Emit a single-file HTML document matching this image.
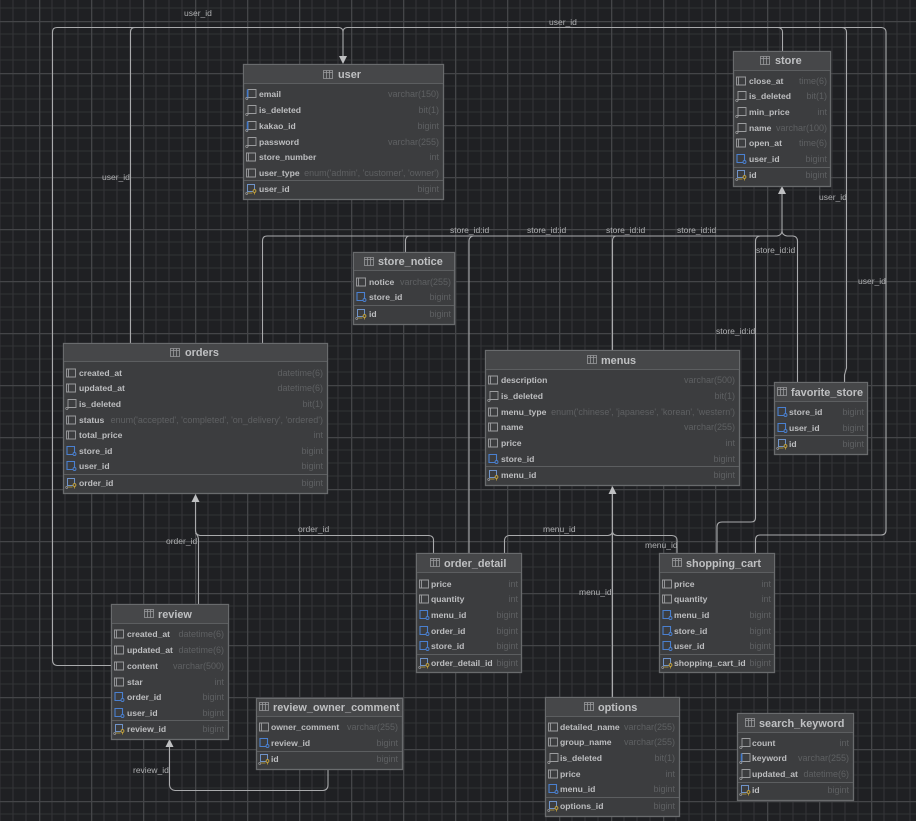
<!DOCTYPE html>
<html><head><meta charset="utf-8"><title>ER diagram</title>
<style>
html,body{margin:0;padding:0;background:#1f2023;width:916px;height:821px;overflow:hidden}
svg{display:block;font-family:"Liberation Sans",sans-serif;filter:blur(.3px)}
.n{font-size:8.6px;font-weight:bold;fill:#bdbec0}
.t{font-size:9px;fill:#5e6062;text-anchor:end}
.h{font-size:10.9px;font-weight:bold;fill:#bfc0c2}
.l{font-size:8.5px;fill:#aeafb1}
.b{fill:#3c3d3f;stroke:#696b6d;stroke-width:1.3}
.hd{fill:#464749}
.d{stroke:#5c5e60;stroke-width:1}
.c{fill:none;stroke:#a9aaac;stroke-width:1.1}
.a{fill:#bfc0c2}
</style></head><body>
<svg width="916" height="821" viewBox="0 0 916 821" xmlns="http://www.w3.org/2000/svg">
<defs>
<pattern id="g" x="39" y="21" width="52" height="52" patternUnits="userSpaceOnUse">
<path d="M13 0V52M26 0V52M39 0V52M0 13H52M0 26H52M0 39H52" stroke="#323336" stroke-width="1.1" fill="none"/>
<path d="M0.5 0V52M0 0.5H52" stroke="#444548" stroke-width="1.6" fill="none"/>
</pattern>
<symbol id="ti" viewBox="0 0 10 9" width="10" height="9"><path d="M.5.5h9v8h-9zM3.5.5v8M6.5.5v8M.5 2.5h9" fill="none" stroke="#9a9b9d" stroke-width=".8"/></symbol>
<symbol id="p" viewBox="0 0 12 12" width="12" height="12"><path d="M1.5 2h9v8h-9zM3.5 2v8" fill="none" stroke="#9c9d9f" stroke-width=".9"/></symbol>
<symbol id="o" viewBox="0 0 12 12" width="12" height="12"><path d="M3 1.5h8v8H3zM3 1.500v9.500" fill="none" stroke="#9c9d9f" stroke-width=".9"/><circle cx="1.800" cy="10.500" r="1.100" fill="none" stroke="#9c9d9f" stroke-width=".7"/></symbol>
<symbol id="u" viewBox="0 0 12 12" width="12" height="12"><path d="M3 1.500h8v8H3z" fill="none" stroke="#9c9d9f" stroke-width=".9"/><path d="M2.500 1.500v9" stroke="#3f78cc" stroke-width="1.500"/><circle cx="1.800" cy="10.500" r="1.100" fill="none" stroke="#9c9d9f" stroke-width=".7"/></symbol>
<symbol id="f" viewBox="0 0 12 12" width="12" height="12"><path d="M2 1.500h7.500v8H2z" fill="none" stroke="#4a80d0" stroke-width="1.100"/><circle cx="9.500" cy="9" r="1.500" fill="#3d3e40" stroke="#4a80d0" stroke-width=".9"/></symbol>
<symbol id="k" viewBox="0 0 12 12" width="12" height="12"><path d="M2.500 1.500h7v7h-7z" fill="none" stroke="#6f93c8" stroke-width="1"/><circle cx="9.500" cy="8" r="1.400" fill="#3d3e40" stroke="#c8a53a" stroke-width=".9"/><path d="M9.500 9.500v2M2.500 10h5" stroke="#c8a53a" stroke-width=".8"/><circle cx="1.700" cy="10.500" r="1" fill="none" stroke="#9c9d9f" stroke-width=".7"/></symbol>
</defs>
<rect width="916" height="821" fill="#1f2023"/>
<rect width="916" height="821" fill="url(#g)"/>

<!-- connectors -->
<path class="c" d="M111 665.500H57Q52.500 665 52.500 660V32Q52.500 27.500 57 27.500H339Q343 28 343 32"/>
<path class="c" d="M130.500 343V32Q130.500 27.500 135 27.500H339"/>
<path class="c" d="M343 32V57M343 32Q343 28 347 27.500H881.500Q886 28 886 32V530Q886 535 881 535H760Q755.500 535 755.500 540V553"/>
<path class="c" d="M782.500 51V32Q782.500 28 778 27.500"/>
<path class="c" d="M844.500 382V375L846.500 368V32Q846.500 28 842 27.500"/>
<path class="c" d="M782 194V231Q782 235 777 236H267Q262.500 236 262.500 241V343"/>
<path class="c" d="M405.500 252V240Q406 236.500 409 236"/>
<path class="c" d="M469 553V241Q469 237 473 236"/>
<path class="c" d="M612.500 350V240Q613 236.500 616 236"/>
<path class="c" d="M760 236Q755.500 236.500 755.500 241V518Q755.500 522 751 522H722Q717 522 717 527V553"/>
<path class="c" d="M782 231Q782 235 787 236H793Q797.500 236.500 797.500 241V382"/>
<path class="c" d="M195.500 502V531Q196 535 200 535.500H429Q433.500 536 433.500 540V553"/>
<path class="c" d="M198.500 604V540Q198.500 536 195.500 533"/>
<path class="c" d="M612.500 494V697"/>
<path class="c" d="M504.500 553V540Q505 536 509 535.500H608Q612 535 612.500 532Q613 535 617 535.500H672Q677 536 677 540V553"/>
<path class="c" d="M169.500 747V785Q170 790 175 790.500H323Q328 790 328 785V769"/>
<path class="a" d="M343 64L339 56H347Z"/>
<path class="a" d="M782 186L778 194H786Z"/>
<path class="a" d="M195.500 494L191.500 502H199.500Z"/>
<path class="a" d="M612.500 486L608.500 494H616.500Z"/>
<path class="a" d="M169.500 739L165.500 747H173.500Z"/>

<!-- connector labels -->
<text class="l" x="184" y="16">user_id</text>
<text class="l" x="102" y="180">user_id</text>
<text class="l" x="549" y="25">user_id</text>
<text class="l" x="819" y="200">user_id</text>
<text class="l" x="858" y="284">user_id</text>
<text class="l" x="450" y="233">store_id:id</text>
<text class="l" x="527" y="233">store_id:id</text>
<text class="l" x="606" y="233">store_id:id</text>
<text class="l" x="677" y="233">store_id:id</text>
<text class="l" x="756" y="253">store_id:id</text>
<text class="l" x="716" y="334">store_id:id</text>
<text class="l" x="298" y="532">order_id</text>
<text class="l" x="166" y="544">order_id</text>
<text class="l" x="543" y="532">menu_id</text>
<text class="l" x="645" y="548">menu_id</text>
<text class="l" x="579" y="595">menu_id</text>
<text class="l" x="133" y="773">review_id</text>

<!-- user -->
<rect class="b" x="243.500" y="64.500" width="200" height="135"/><rect class="hd" x="244" y="65" width="199" height="18"/><path class="d" d="M244 83.500H443M244 180.500H443"/>
<use href="#ti" x="323" y="70"/><text class="h" x="338" y="78">user</text>
<use href="#u" x="245" y="88"/><text class="n" x="259" y="97">email</text><text class="t" x="439" y="97">varchar(150)</text>
<use href="#o" x="245" y="104"/><text class="n" x="259" y="113">is_deleted</text><text class="t" x="439" y="113">bit(1)</text>
<use href="#u" x="245" y="120"/><text class="n" x="259" y="129">kakao_id</text><text class="t" x="439" y="129">bigint</text>
<use href="#o" x="245" y="136"/><text class="n" x="259" y="145">password</text><text class="t" x="439" y="145">varchar(255)</text>
<use href="#p" x="245" y="151"/><text class="n" x="259" y="160">store_number</text><text class="t" x="439" y="160">int</text>
<use href="#p" x="245" y="167"/><text class="n" x="259" y="176">user_type</text><text class="t" x="439" y="176">enum('admin', 'customer', 'owner')</text>
<use href="#k" x="245" y="183"/><text class="n" x="259" y="192">user_id</text><text class="t" x="439" y="192">bigint</text>

<!-- store -->
<rect class="b" x="733.500" y="51.500" width="97" height="135"/><rect class="hd" x="734" y="52" width="96" height="18"/><path class="d" d="M734 70.500H830M734 167.500H830"/>
<use href="#ti" x="760" y="56"/><text class="h" x="775" y="64">store</text>
<use href="#p" x="735" y="75"/><text class="n" x="749" y="84">close_at</text><text class="t" x="827" y="84">time(6)</text>
<use href="#o" x="735" y="90"/><text class="n" x="749" y="99">is_deleted</text><text class="t" x="827" y="99">bit(1)</text>
<use href="#o" x="735" y="106"/><text class="n" x="749" y="115">min_price</text><text class="t" x="827" y="115">int</text>
<use href="#o" x="735" y="122"/><text class="n" x="749" y="131">name</text><text class="t" x="827" y="131">varchar(100)</text>
<use href="#p" x="735" y="137"/><text class="n" x="749" y="146">open_at</text><text class="t" x="827" y="146">time(6)</text>
<use href="#f" x="735" y="153"/><text class="n" x="749" y="162">user_id</text><text class="t" x="827" y="162">bigint</text>
<use href="#k" x="735" y="169"/><text class="n" x="749" y="178">id</text><text class="t" x="827" y="178">bigint</text>

<!-- store_notice -->
<rect class="b" x="353.500" y="252.500" width="101" height="72"/><rect class="hd" x="354" y="253" width="100" height="17"/><path class="d" d="M354 270.500H454M354 305.500H454"/>
<use href="#ti" x="364" y="257"/><text class="h" x="378" y="265">store_notice</text>
<use href="#p" x="355" y="276"/><text class="n" x="369" y="285">notice</text><text class="t" x="451" y="285">varchar(255)</text>
<use href="#f" x="355" y="291"/><text class="n" x="369" y="300">store_id</text><text class="t" x="451" y="300">bigint</text>
<use href="#k" x="355" y="308"/><text class="n" x="369" y="317">id</text><text class="t" x="451" y="317">bigint</text>

<!-- orders -->
<rect class="b" x="63.500" y="343.500" width="264" height="150"/><rect class="hd" x="64" y="344" width="263" height="17"/><path class="d" d="M64 361.500H327M64 474.500H327"/>
<use href="#ti" x="170" y="348"/><text class="h" x="185" y="356">orders</text>
<use href="#p" x="65" y="367"/><text class="n" x="79" y="376">created_at</text><text class="t" x="323" y="376">datetime(6)</text>
<use href="#p" x="65" y="382"/><text class="n" x="79" y="391">updated_at</text><text class="t" x="323" y="391">datetime(6)</text>
<use href="#o" x="65" y="398"/><text class="n" x="79" y="407">is_deleted</text><text class="t" x="323" y="407">bit(1)</text>
<use href="#p" x="65" y="414"/><text class="n" x="79" y="423">status</text><text class="t" x="323" y="423">enum('accepted', 'completed', 'on_delivery', 'ordered')</text>
<use href="#p" x="65" y="429"/><text class="n" x="79" y="438">total_price</text><text class="t" x="323" y="438">int</text>
<use href="#f" x="65" y="445"/><text class="n" x="79" y="454">store_id</text><text class="t" x="323" y="454">bigint</text>
<use href="#f" x="65" y="460"/><text class="n" x="79" y="469">user_id</text><text class="t" x="323" y="469">bigint</text>
<use href="#k" x="65" y="477"/><text class="n" x="79" y="486">order_id</text><text class="t" x="323" y="486">bigint</text>

<!-- menus -->
<rect class="b" x="485.500" y="350.500" width="254" height="135"/><rect class="hd" x="486" y="351" width="253" height="18"/><path class="d" d="M486 369.500H739M486 466.500H739"/>
<use href="#ti" x="587" y="355"/><text class="h" x="601" y="364">menus</text>
<use href="#p" x="487" y="374"/><text class="n" x="501" y="383">description</text><text class="t" x="735" y="383">varchar(500)</text>
<use href="#o" x="487" y="390"/><text class="n" x="501" y="399">is_deleted</text><text class="t" x="735" y="399">bit(1)</text>
<use href="#p" x="487" y="406"/><text class="n" x="501" y="415">menu_type</text><text class="t" x="735" y="415">enum('chinese', 'japanese', 'korean', 'western')</text>
<use href="#p" x="487" y="421"/><text class="n" x="501" y="430">name</text><text class="t" x="735" y="430">varchar(255)</text>
<use href="#p" x="487" y="437"/><text class="n" x="501" y="446">price</text><text class="t" x="735" y="446">int</text>
<use href="#f" x="487" y="453"/><text class="n" x="501" y="462">store_id</text><text class="t" x="735" y="462">bigint</text>
<use href="#k" x="487" y="469"/><text class="n" x="501" y="478">menu_id</text><text class="t" x="735" y="478">bigint</text>

<!-- favorite_store -->
<rect class="b" x="774.500" y="382.500" width="93" height="72"/><rect class="hd" x="775" y="383" width="92" height="18"/><path class="d" d="M775 401.500H867M775 435.500H867"/>
<use href="#ti" x="777" y="387"/><text class="h" x="791" y="396">favorite_store</text>
<use href="#f" x="776" y="406"/><text class="n" x="789" y="415">store_id</text><text class="t" x="864" y="415">bigint</text>
<use href="#f" x="776" y="422"/><text class="n" x="789" y="431">user_id</text><text class="t" x="864" y="431">bigint</text>
<use href="#k" x="776" y="438"/><text class="n" x="789" y="447">id</text><text class="t" x="864" y="447">bigint</text>

<!-- review -->
<rect class="b" x="111.500" y="604.500" width="117" height="135"/><rect class="hd" x="112" y="605" width="116" height="18"/><path class="d" d="M112 623.500H228M112 720.500H228"/>
<use href="#ti" x="144" y="609"/><text class="h" x="158" y="618">review</text>
<use href="#p" x="113" y="628"/><text class="n" x="127" y="637">created_at</text><text class="t" x="224" y="637">datetime(6)</text>
<use href="#p" x="113" y="644"/><text class="n" x="127" y="653">updated_at</text><text class="t" x="224" y="653">datetime(6)</text>
<use href="#p" x="113" y="660"/><text class="n" x="127" y="669">content</text><text class="t" x="224" y="669">varchar(500)</text>
<use href="#p" x="113" y="676"/><text class="n" x="127" y="685">star</text><text class="t" x="224" y="685">int</text>
<use href="#f" x="113" y="691"/><text class="n" x="127" y="700">order_id</text><text class="t" x="224" y="700">bigint</text>
<use href="#f" x="113" y="707"/><text class="n" x="127" y="716">user_id</text><text class="t" x="224" y="716">bigint</text>
<use href="#k" x="113" y="723"/><text class="n" x="127" y="732">review_id</text><text class="t" x="224" y="732">bigint</text>

<!-- order_detail -->
<rect class="b" x="416.500" y="553.500" width="105" height="119"/><rect class="hd" x="417" y="554" width="104" height="18"/><path class="d" d="M417 572.500H521M417 654.500H521"/>
<use href="#ti" x="430" y="558"/><text class="h" x="444" y="567">order_detail</text>
<use href="#p" x="418" y="578"/><text class="n" x="431" y="587">price</text><text class="t" x="518" y="587">int</text>
<use href="#p" x="418" y="593"/><text class="n" x="431" y="602">quantity</text><text class="t" x="518" y="602">int</text>
<use href="#f" x="418" y="609"/><text class="n" x="431" y="618">menu_id</text><text class="t" x="518" y="618">bigint</text>
<use href="#f" x="418" y="625"/><text class="n" x="431" y="634">order_id</text><text class="t" x="518" y="634">bigint</text>
<use href="#f" x="418" y="640"/><text class="n" x="431" y="649">store_id</text><text class="t" x="518" y="649">bigint</text>
<use href="#k" x="418" y="657"/><text class="n" x="431" y="666">order_detail_id</text><text class="t" x="518" y="666">bigint</text>

<!-- shopping_cart -->
<rect class="b" x="659.500" y="553.500" width="115" height="119"/><rect class="hd" x="660" y="554" width="114" height="18"/><path class="d" d="M660 572.500H774M660 654.500H774"/>
<use href="#ti" x="672" y="558"/><text class="h" x="686" y="567">shopping_cart</text>
<use href="#p" x="661" y="578"/><text class="n" x="674" y="587">price</text><text class="t" x="771" y="587">int</text>
<use href="#p" x="661" y="593"/><text class="n" x="674" y="602">quantity</text><text class="t" x="771" y="602">int</text>
<use href="#f" x="661" y="609"/><text class="n" x="674" y="618">menu_id</text><text class="t" x="771" y="618">bigint</text>
<use href="#f" x="661" y="625"/><text class="n" x="674" y="634">store_id</text><text class="t" x="771" y="634">bigint</text>
<use href="#f" x="661" y="640"/><text class="n" x="674" y="649">user_id</text><text class="t" x="771" y="649">bigint</text>
<use href="#k" x="661" y="657"/><text class="n" x="674" y="666">shopping_cart_id</text><text class="t" x="771" y="666">bigint</text>

<!-- review_owner_comment -->
<rect class="b" x="256.500" y="698.500" width="146" height="71"/><rect class="hd" x="257" y="699" width="145" height="17"/><path class="d" d="M257 716.500H402M257 751.500H402"/>
<use href="#ti" x="259" y="702"/><text class="h" x="273" y="711">review_owner_comment</text>
<use href="#p" x="258" y="721"/><text class="n" x="271" y="730">owner_comment</text><text class="t" x="398" y="730">varchar(255)</text>
<use href="#f" x="258" y="737"/><text class="n" x="271" y="746">review_id</text><text class="t" x="398" y="746">bigint</text>
<use href="#k" x="258" y="753"/><text class="n" x="271" y="762">id</text><text class="t" x="398" y="762">bigint</text>

<!-- options -->
<rect class="b" x="545.500" y="697.500" width="134" height="119"/><rect class="hd" x="546" y="698" width="133" height="18"/><path class="d" d="M546 716.500H679M546 797.500H679"/>
<use href="#ti" x="584" y="702"/><text class="h" x="598" y="711">options</text>
<use href="#p" x="547" y="721"/><text class="n" x="560" y="730">detailed_name</text><text class="t" x="675" y="730">varchar(255)</text>
<use href="#p" x="547" y="736"/><text class="n" x="560" y="745">group_name</text><text class="t" x="675" y="745">varchar(255)</text>
<use href="#o" x="547" y="752"/><text class="n" x="560" y="761">is_deleted</text><text class="t" x="675" y="761">bit(1)</text>
<use href="#p" x="547" y="768"/><text class="n" x="560" y="777">price</text><text class="t" x="675" y="777">int</text>
<use href="#f" x="547" y="783"/><text class="n" x="560" y="792">menu_id</text><text class="t" x="675" y="792">bigint</text>
<use href="#k" x="547" y="800"/><text class="n" x="560" y="809">options_id</text><text class="t" x="675" y="809">bigint</text>

<!-- search_keyword -->
<rect class="b" x="737.500" y="713.500" width="116" height="87"/><rect class="hd" x="738" y="714" width="115" height="18"/><path class="d" d="M738 732.500H853M738 782.500H853"/>
<use href="#ti" x="745" y="718"/><text class="h" x="759" y="727">search_keyword</text>
<use href="#o" x="739" y="737"/><text class="n" x="752" y="746">count</text><text class="t" x="849" y="746">int</text>
<use href="#u" x="739" y="752"/><text class="n" x="752" y="761">keyword</text><text class="t" x="849" y="761">varchar(255)</text>
<use href="#o" x="739" y="768"/><text class="n" x="752" y="777">updated_at</text><text class="t" x="849" y="777">datetime(6)</text>
<use href="#k" x="739" y="784"/><text class="n" x="752" y="793">id</text><text class="t" x="849" y="793">bigint</text>
</svg>
</body></html>
